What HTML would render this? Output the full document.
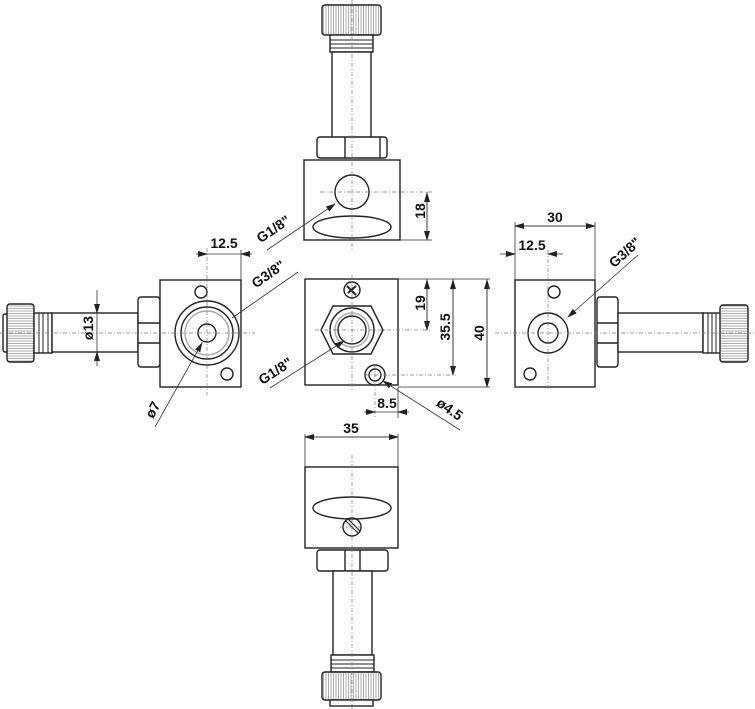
<!DOCTYPE html>
<html><head><style>html,body{margin:0;padding:0;background:#fff}svg{display:block}</style></head>
<body>
<svg width="755" height="709" viewBox="0 0 755 709" xmlns="http://www.w3.org/2000/svg" font-family="Liberation Sans, sans-serif" font-weight="bold" font-size="14">
<defs>
<pattern id="kv" width="2.5" height="10" patternUnits="userSpaceOnUse"><rect width="2.5" height="10" fill="#fff"/><line x1="1" y1="0" x2="1" y2="10" stroke="#999" stroke-width="0.8"/></pattern>
<pattern id="kh" width="10" height="2.5" patternUnits="userSpaceOnUse"><rect width="10" height="2.5" fill="#fff"/><line x1="0" y1="1" x2="10" y2="1" stroke="#999" stroke-width="0.8"/></pattern>
<marker id="a" markerWidth="10" markerHeight="6" refX="9" refY="3" orient="auto" markerUnits="userSpaceOnUse"><path d="M0,0 L10,3 L0,6 z" fill="#222"/></marker>
</defs>
<g fill="none" stroke="#222" stroke-width="1.4">
<!-- TOP VIEW -->
<rect x="322" y="5" width="59" height="30" rx="3" fill="url(#kv)"/>
<rect x="330" y="35" width="43" height="17" fill="#fff"/>
<g stroke-width="1"><line x1="330" y1="40" x2="373" y2="40"/><line x1="330" y1="44" x2="373" y2="44"/><line x1="330" y1="48" x2="373" y2="48"/></g>
<rect x="332" y="52" width="39" height="86" fill="#fff"/>
<rect x="317" y="137" width="70" height="21" rx="3" fill="#fff"/>
<line x1="345" y1="137" x2="345" y2="158"/><line x1="380" y1="137" x2="380" y2="158"/>
<rect x="304" y="160" width="96" height="80" fill="#fff"/>
<circle cx="352" cy="192" r="17"/>
<ellipse cx="352" cy="227" rx="39" ry="11"/>
<!-- LEFT VIEW -->
<rect x="3" y="314" width="5" height="38" rx="2" fill="#fff"/>
<rect x="7" y="304" width="27" height="58" rx="3" fill="url(#kh)"/>
<rect x="34" y="313" width="18" height="40" fill="#fff"/>
<g stroke-width="1"><line x1="39" y1="313" x2="39" y2="353"/><line x1="43" y1="313" x2="43" y2="353"/><line x1="48" y1="313" x2="48" y2="353"/></g>
<rect x="52" y="313" width="86" height="39" fill="#fff"/>
<rect x="138" y="297" width="22" height="70" rx="3" fill="#fff"/>
<line x1="138" y1="323" x2="160" y2="323"/><line x1="138" y1="343" x2="160" y2="343"/>
<rect x="160" y="280" width="81" height="107" fill="#fff"/>
<circle cx="207" cy="333" r="32"/><circle cx="207" cy="333" r="26"/><circle cx="207" cy="333" r="22" stroke="#aaa"/>
<circle cx="207" cy="333" r="9"/>
<circle cx="201" cy="292" r="6"/><circle cx="227" cy="374" r="6"/>
<!-- CENTER VIEW -->
<rect x="305" y="279" width="93" height="106" fill="#fff"/>
<polygon points="321,330 333,306 371,306 383,330 371,354 333,354"/>
<circle cx="352" cy="330" r="22"/><circle cx="352" cy="330" r="17" stroke="#aaa"/><circle cx="352" cy="330" r="14"/>
<circle cx="352" cy="290" r="8"/>
<path d="M347,286 l9,9 M348,293 l8,-7" stroke-width="2"/>
<circle cx="375" cy="375" r="10"/><circle cx="375" cy="375" r="6"/>
<!-- RIGHT VIEW -->
<rect x="515" y="280" width="80" height="107" fill="#fff"/>
<circle cx="548" cy="333" r="20"/><circle cx="548" cy="333" r="10"/>
<circle cx="554" cy="292" r="6"/><circle cx="530" cy="374" r="6"/>
<rect x="597" y="297" width="21" height="70" rx="3" fill="#fff"/>
<line x1="597" y1="323" x2="618" y2="323"/><line x1="597" y1="343" x2="618" y2="343"/>
<rect x="618" y="313" width="85" height="39" fill="#fff"/>
<rect x="703" y="313" width="18" height="40" fill="#fff"/>
<g stroke-width="1"><line x1="708" y1="313" x2="708" y2="353"/><line x1="712" y1="313" x2="712" y2="353"/><line x1="716" y1="313" x2="716" y2="353"/></g>
<rect x="720" y="305" width="28" height="57" rx="3" fill="url(#kh)"/>
<!-- BOTTOM VIEW -->
<rect x="305" y="467" width="93" height="81" fill="#fff"/>
<ellipse cx="352" cy="508" rx="39" ry="11"/>
<circle cx="352" cy="527" r="9"/>
<path d="M346,521 l12,12 M348,519 l12,12" stroke-width="1.2"/>
<rect x="317" y="550" width="71" height="21" rx="3" fill="#fff"/>
<line x1="345" y1="550" x2="345" y2="571"/><line x1="360" y1="550" x2="360" y2="571"/>
<rect x="333" y="571" width="39" height="84" fill="#fff"/>
<rect x="331" y="655" width="43" height="17" fill="#fff"/>
<g stroke-width="1"><line x1="331" y1="660" x2="374" y2="660"/><line x1="331" y1="664" x2="374" y2="664"/><line x1="331" y1="668" x2="374" y2="668"/></g>
<rect x="322" y="672" width="59" height="28" rx="3" fill="url(#kv)"/>
<rect x="330" y="700" width="43" height="6" fill="#fff"/>
</g>
<!-- centerlines -->
<g stroke="#777" stroke-width="0.7" stroke-dasharray="4,2,1,2" fill="none">
<line x1="352" y1="0" x2="352" y2="250"/>
<line x1="320" y1="192" x2="432" y2="192"/>
<line x1="0" y1="333" x2="255" y2="333"/>
<line x1="207" y1="248" x2="207" y2="395"/>
<line x1="495" y1="333" x2="755" y2="333"/>
<line x1="548" y1="250" x2="548" y2="390"/>
<line x1="352" y1="275" x2="352" y2="390"/>
<line x1="315" y1="330" x2="430" y2="330"/>
<line x1="365" y1="375" x2="456" y2="375"/>
<line x1="375" y1="365" x2="375" y2="418"/>
<line x1="352" y1="455" x2="352" y2="709"/>
<line x1="340" y1="527" x2="364" y2="527"/>
</g>
<!-- dimension lines -->
<g stroke="#333" stroke-width="0.8" fill="none">
<line x1="400" y1="240" x2="432" y2="240"/>
<line x1="427" y1="192" x2="427" y2="240" marker-end="url(#a)"/><line x1="427" y1="230" x2="427" y2="193" marker-end="url(#a)"/>
<line x1="241" y1="250" x2="241" y2="280"/>
<line x1="196" y1="254" x2="207" y2="254" marker-end="url(#a)"/><line x1="252" y1="254" x2="241" y2="254" marker-end="url(#a)"/><line x1="207" y1="254" x2="241" y2="254"/>
<line x1="97" y1="290" x2="97" y2="313" marker-end="url(#a)"/><line x1="97" y1="366" x2="97" y2="352" marker-end="url(#a)"/><line x1="97" y1="313" x2="97" y2="352"/>
<line x1="398" y1="279" x2="490" y2="279"/><line x1="398" y1="387" x2="490" y2="387"/>
<line x1="427" y1="279" x2="427" y2="330" marker-end="url(#a)"/><line x1="427" y1="325" x2="427" y2="280" marker-end="url(#a)"/>
<line x1="453" y1="279" x2="453" y2="375" marker-end="url(#a)"/><line x1="453" y1="370" x2="453" y2="280" marker-end="url(#a)"/>
<line x1="487" y1="279" x2="487" y2="387" marker-end="url(#a)"/><line x1="487" y1="380" x2="487" y2="280" marker-end="url(#a)"/>
<line x1="398" y1="387" x2="398" y2="418"/>
<line x1="364" y1="412" x2="375" y2="412" marker-end="url(#a)"/><line x1="409" y1="412" x2="398" y2="412" marker-end="url(#a)"/><line x1="375" y1="412" x2="398" y2="412"/>
<line x1="515" y1="222" x2="515" y2="280"/><line x1="595" y1="222" x2="595" y2="280"/>
<line x1="515" y1="226" x2="595" y2="226" marker-end="url(#a)"/><line x1="590" y1="226" x2="515" y2="226" marker-end="url(#a)"/>
<line x1="500" y1="254" x2="515" y2="254" marker-end="url(#a)"/><line x1="563" y1="254" x2="548" y2="254" marker-end="url(#a)"/>
<line x1="305" y1="434" x2="305" y2="467"/><line x1="398" y1="434" x2="398" y2="467"/>
<line x1="305" y1="437" x2="398" y2="437" marker-end="url(#a)"/><line x1="390" y1="437" x2="305" y2="437" marker-end="url(#a)"/>
<!-- leaders -->
<line x1="267" y1="250" x2="335" y2="204" marker-end="url(#a)"/>
<line x1="232" y1="318" x2="298" y2="272"/>
<line x1="270" y1="388" x2="344" y2="341" marker-end="url(#a)"/>
<line x1="155" y1="427" x2="202" y2="343" marker-end="url(#a)"/>
<line x1="460" y1="430" x2="383" y2="381" marker-end="url(#a)"/>
<line x1="638" y1="255" x2="568" y2="317" marker-end="url(#a)"/>
</g>
<!-- text -->
<g fill="#111">
<text x="425" y="211" text-anchor="middle" transform="rotate(-90 425 211)">18</text>
<text x="224" y="248" text-anchor="middle">12.5</text>
<text x="93" y="328" text-anchor="middle" transform="rotate(-90 93 328)">ø13</text>
<text x="425" y="303" text-anchor="middle" transform="rotate(-90 425 303)">19</text>
<text x="450" y="327" text-anchor="middle" transform="rotate(-90 450 327)">35.5</text>
<text x="484" y="333" text-anchor="middle" transform="rotate(-90 484 333)">40</text>
<text x="387" y="408" text-anchor="middle">8.5</text>
<text x="555" y="222" text-anchor="middle">30</text>
<text x="532" y="250" text-anchor="middle">12.5</text>
<text x="351" y="433" text-anchor="middle">35</text>
<text x="276" y="233" text-anchor="middle" transform="rotate(-34 276 233)">G1/8"</text>
<text x="271" y="278" text-anchor="middle" transform="rotate(-35 271 278)">G3/8"</text>
<text x="278" y="375" text-anchor="middle" transform="rotate(-33 278 375)">G1/8"</text>
<text x="628" y="256" text-anchor="middle" transform="rotate(-42 628 256)">G3/8"</text>
<text x="157" y="412" text-anchor="middle" transform="rotate(-62 157 412)">ø7</text>
<text x="447" y="413" text-anchor="middle" transform="rotate(35 447 413)">ø4.5</text>
</g>
</svg>
</body></html>
